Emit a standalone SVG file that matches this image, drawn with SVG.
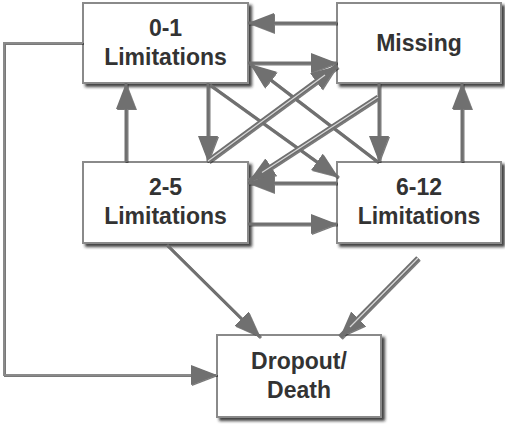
<svg xmlns="http://www.w3.org/2000/svg" width="505" height="424" viewBox="0 0 505 424">
<style>
.box{fill:#fff;stroke:#8a8a8a;stroke-width:2}
.lbl{font-family:"Liberation Sans",Arial,sans-serif;font-weight:bold;font-size:23px;fill:#333;text-anchor:middle}
.c{fill:none;stroke:#707070;stroke-width:3}
.d{fill:none;stroke:#707070;stroke-width:5}
.dh{fill:none;stroke:#d8d8d8;stroke-width:1.2}
.thin{fill:none;stroke:#8a8a8a;stroke-width:2}
</style>
<defs>
<filter id="sh" x="-10%" y="-10%" width="130%" height="130%">
<feDropShadow dx="3" dy="3" stdDeviation="1.8" flood-color="#222" flood-opacity="0.85"/>
</filter>
<filter id="ash" x="-20%" y="-20%" width="140%" height="140%">
<feDropShadow dx="1" dy="1" stdDeviation="0.7" flood-color="#222" flood-opacity="0.6"/>
</filter>
<marker id="ah" markerUnits="userSpaceOnUse" markerWidth="28" markerHeight="22" refX="26" refY="10" orient="auto" viewBox="0 0 28 22">
<path d="M0,0 L26,10 L0,20 z" fill="#707070"/>
</marker>
</defs>
<g id="node-01" filter="url(#sh)"><rect class="box" x="83" y="3" width="165" height="80"/></g>
<g id="node-missing" filter="url(#sh)"><rect class="box" x="337" y="3" width="164" height="80"/></g>
<g id="node-25" filter="url(#sh)"><rect class="box" x="83" y="162" width="165" height="81"/></g>
<g id="node-612" filter="url(#sh)"><rect class="box" x="337" y="162" width="164" height="81"/></g>
<g id="node-dropout" filter="url(#sh)"><rect class="box" x="217" y="335" width="164" height="82"/></g>
<g id="labels">
<text class="lbl" x="165.5" y="36">0-1</text>
<text class="lbl" x="165.5" y="65">Limitations</text>
<text class="lbl" x="419" y="51">Missing</text>
<text class="lbl" x="165.5" y="195">2-5</text>
<text class="lbl" x="165.5" y="224">Limitations</text>
<text class="lbl" x="419" y="195">6-12</text>
<text class="lbl" x="419" y="224">Limitations</text>
<text class="lbl" x="299" y="369">Dropout/</text>
<text class="lbl" x="299" y="398">Death</text>
</g>
<g id="connectors" filter="url(#ash)">
<path class="thin" d="M83,43 L4,43 L4,375 L217,375" marker-end="url(#ah)"/>
<path class="c" d="M337,23 L248,23" marker-end="url(#ah)"/>
<path class="c" d="M248,63 L337,63" marker-end="url(#ah)"/>
<path class="c" d="M208,83 L208,162" marker-end="url(#ah)"/>
<path class="c" d="M210,85 L338,177" marker-end="url(#ah)"/>
<path class="c" d="M378,162 L250,64" marker-end="url(#ah)"/>
<path class="c" d="M379,83 L379,162" marker-end="url(#ah)"/>
<path class="c" d="M337,183 L248,183" marker-end="url(#ah)"/>
<path class="c" d="M248,224 L337,224" marker-end="url(#ah)"/>
<path class="c" d="M126,162 L126,83" marker-end="url(#ah)"/>
<path class="c" d="M462,162 L462,83" marker-end="url(#ah)"/>
<path class="c" d="M167,245 L260,337" marker-end="url(#ah)"/>
<path class="d" d="M378,97 L249,181" marker-end="url(#ah)"/>
<path class="dh" d="M378,97 L262,172.5"/>
<path class="d" d="M208,161 L337,66" marker-end="url(#ah)"/>
<path class="dh" d="M208,161 L325,75"/>
<path class="d" d="M418,258 L340,337" marker-end="url(#ah)"/>
<path class="dh" d="M418,258 L350,327"/>
</g>
</svg>
